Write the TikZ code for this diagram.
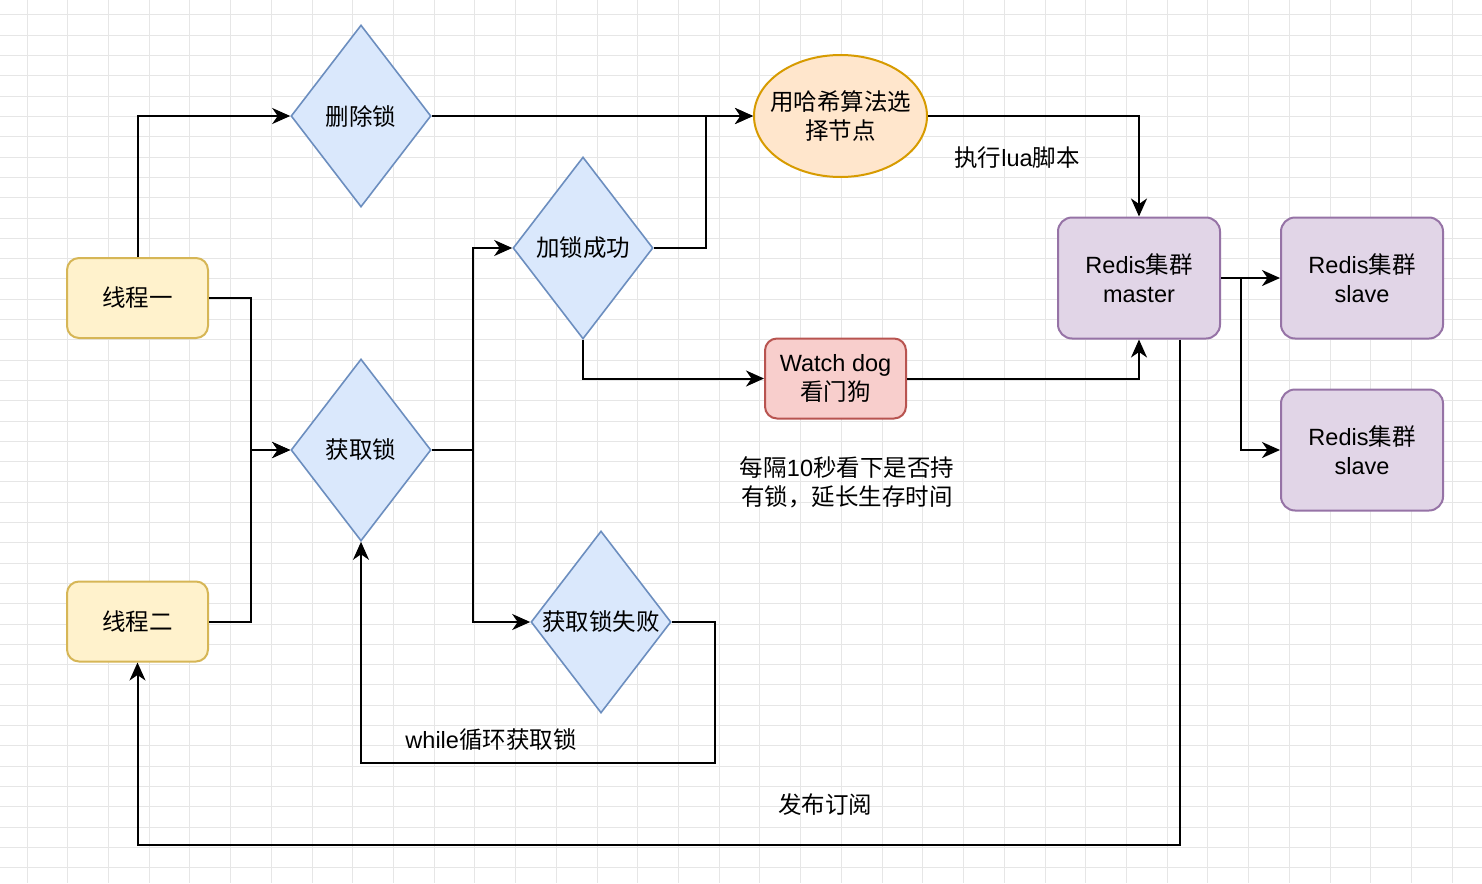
\documentclass[tikz,border=0pt]{standalone}
\usepackage{fontspec}
\setmainfont{Liberation Sans}
\newfontfamily\cjkfont{Noto Sans CJK SC}
\newcommand\zh[1]{{\cjkfont #1}}
\usetikzlibrary{arrows.meta,shapes.geometric,calc}
\definecolor{gridc}{HTML}{E6E6E6}
\definecolor{yfill}{HTML}{FFF2CC}\definecolor{ydraw}{HTML}{D6B656}
\definecolor{bfill}{HTML}{DAE8FC}\definecolor{bdraw}{HTML}{6C8EBF}
\definecolor{ofill}{HTML}{FFE6CC}\definecolor{odraw}{HTML}{D79B00}
\definecolor{rfill}{HTML}{F8CECC}\definecolor{rdraw}{HTML}{B85450}
\definecolor{pfill}{HTML}{E1D5E7}\definecolor{pdraw}{HTML}{9673A6}
\tikzset{
  base/.style={font=\fontsize{23.5}{29}\selectfont, align=center, inner sep=0pt, line width=2pt},
  ybox/.style={base, rectangle, rounded corners=12pt, fill=yfill, draw=ydraw, minimum width=141pt, minimum height=80pt},
  pbox/.style={base, rectangle, rounded corners=14pt, fill=pfill, draw=pdraw, minimum width=162pt, minimum height=121pt},
  rbox/.style={base, rectangle, rounded corners=12pt, fill=rfill, draw=rdraw, minimum width=141pt, minimum height=80pt},
  dia/.style={base, diamond, fill=bfill, draw=bdraw, line width=1.6pt, minimum width=140pt, minimum height=182pt},
  ell/.style={base, ellipse, fill=ofill, draw=odraw, inner xsep=-9.5pt, minimum width=173pt, minimum height=122pt},
  lbl/.style={font=\fontsize{23.5}{29}\selectfont, align=center, inner sep=0pt},
  arr/.style={line width=2pt, draw=black, -{Stealth[length=18pt,width=16pt,inset=5.5pt]}},
  gl/.style={draw=gridc, line width=1pt}
}
\begin{document}
\begin{tikzpicture}[x=1pt,y=-1pt]
\useasboundingbox (0,0) rectangle (1482,883);
\fill[white] (0,0) rectangle (1482,883);
% grid
\foreach \i in {0,...,36} \draw[gl] ({27+40.72*\i},0) -- ({27+40.72*\i},883);
\foreach \j in {0,...,43} \draw[gl] (0,{15+20.3*\j}) -- (1482,{15+20.3*\j});

% nodes
\node[ybox] (t1) at (137.5,298) {\zh{线程一}};
\node[ybox] (t2) at (137.5,621.5) {\zh{线程二}};
\node[dia] (del) at (361,116) {\zh{删除锁}};
\node[dia] (get) at (361,450) {\zh{获取锁}};
\node[dia] (succ) at (583,248) {\zh{加锁成功}};
\node[dia] (fail) at (601,622) {\zh{获取锁失败}};
\node[ell] (hash) at (840.5,116) {\zh{用哈希算法选}\\\zh{择节点}};
\node[rbox] (wd) at (835.5,378.5) {Watch dog\\\zh{看门狗}};
\node[pbox] (master) at (1139,278) {Redis\zh{集群}\\master};
\node[pbox] (s1) at (1362,278) {Redis\zh{集群}\\slave};
\node[pbox] (s2) at (1362,450) {Redis\zh{集群}\\slave};

% labels
\node[lbl] (lua) at (1017,158) {\zh{执行}lua\zh{脚本}};
\node[lbl] (loop) at (491,740) {while\zh{循环获取锁}};
\node[lbl] (pub) at (825,805) {\zh{发布订阅}};
\node[lbl] (note) at (847,482) {\zh{每隔}10\zh{秒看下是否持}\\\zh{有锁，延长生存时间}};

% connectors
\draw[arr] (t1.north) |- (del.west);
\draw[arr] (del.east) -- (hash.west);
\draw[arr] (succ.east) -- ++(52,0) |- (hash.west);
\draw[arr] (t1.east) -- ++(42,0) |- (get.west);
\draw[arr] (t2.east) -- ++(42,0) |- (get.west);
\draw[arr] (get.east) -- ++(41,0) |- (succ.west);
\draw[arr] (get.east) -- ++(41,0) |- (fail.west);
\draw[arr] (fail.east) -- ++(43,0) -- ++(0,141) -| (get.south);
\draw[arr] (succ.south) |- (wd.west);
\draw[arr] (wd.east) -| (master.south);
\draw[arr] (hash.east) -| (master.north);
\draw[arr] (master.east) -- (s1.west);
\draw[arr] (master.east) -- ++(20,0) |- (s2.west);
\draw[arr] ([xshift=41pt]master.south) -- ++(0,505) -| (t2.south);
\end{tikzpicture}
\end{document}
